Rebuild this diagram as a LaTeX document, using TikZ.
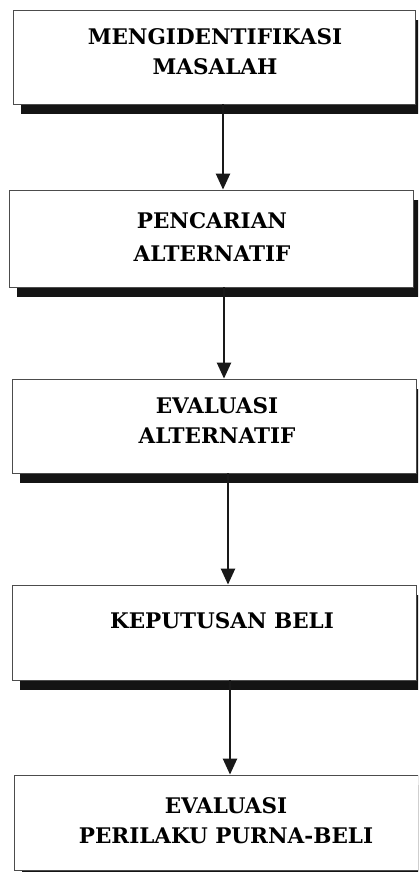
\documentclass[tikz,border=0pt]{standalone}
\usepackage{fontspec}
\setmainfont{DejaVu Serif}
\usetikzlibrary{arrows.meta,shadows}

\tikzset{
  stepbox/.style={draw=black!70, line width=0.8pt, fill=white,
    inner sep=0pt, minimum width=404pt,
    drop shadow={shadow xshift=8pt, shadow yshift=-10pt, fill=black!92, opacity=1}},
  steptext/.style={align=center, inner sep=0pt,
    font=\bfseries\fontsize{21.5}{30}\selectfont},
  flow/.style={draw=black!90, line width=2.3pt,
    -{Triangle[width=14pt,length=16pt]}}
}

\begin{document}
\begin{tikzpicture}[x=1pt,y=1pt]
  \clip (0,0) rectangle (418,-872);
  \fill[white] (0,0) rectangle (418,-872);

  % boxes
  \node[stepbox, minimum width=402pt, minimum height=94pt] (b1) at (214,-57) {};
  \node[stepbox, minimum height=97pt] (b2) at (211,-238.5) {};
  \node[stepbox, minimum height=94pt] (b3) at (214,-426) {};
  \node[stepbox, minimum height=95pt] (b4) at (214,-632.5) {};
  \node[stepbox, minimum height=95pt] (b5) at (216,-822.5) {};

  % labels
  \node[steptext] (t1) at (215,-52) {MENGIDENTIFIKASI\\MASALAH};
  \node[steptext] (t2) at (212,-237) {PENCARIAN\\[3pt]ALTERNATIF};
  \node[steptext] (t3) at (217,-420.5) {EVALUASI\\ALTERNATIF};
  \node[steptext] (t4) at (222,-620.5) {KEPUTUSAN BELI};
  \node[steptext] (t5) at (226,-820.5) {EVALUASI\\PERILAKU PURNA-BELI};

  % connectors
  \coordinate (c1) at (223,0);
  \coordinate (c2) at (224,0);
  \coordinate (c3) at (228,0);
  \coordinate (c4) at (230,0);
  \draw[flow] (b1.south -| c1) -- (b2.north -| c1);
  \draw[flow] (b2.south -| c2) -- (b3.north -| c2);
  \draw[flow] (b3.south -| c3) -- (b4.north -| c3);
  \draw[flow] (b4.south -| c4) -- (b5.north -| c4);
\end{tikzpicture}
\end{document}
